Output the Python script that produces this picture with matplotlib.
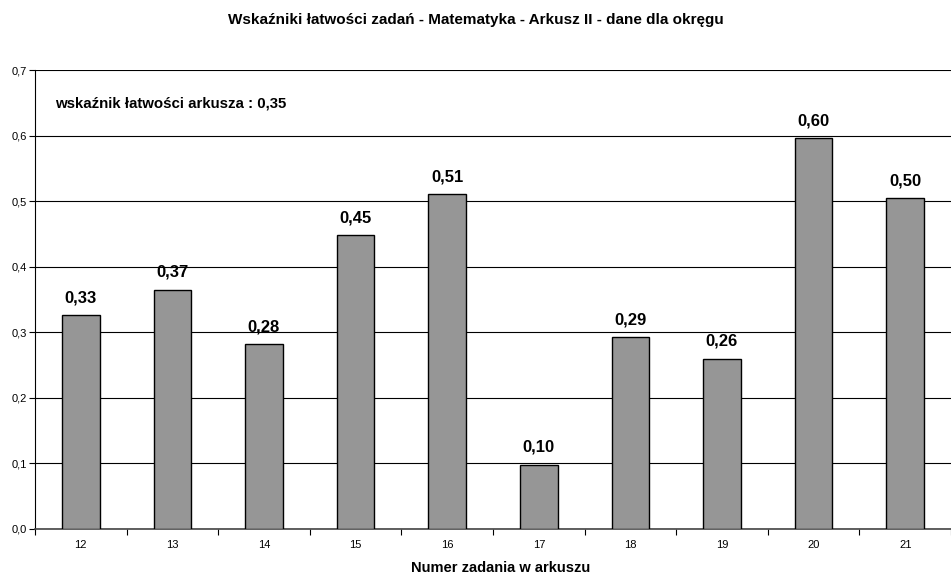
import matplotlib
matplotlib.use("Agg")
import matplotlib.pyplot as plt
import numpy as np

plt.rcParams['font.family'] = ['Liberation Sans', 'DejaVu Sans']

categories = ["12", "13", "14", "15", "16", "17", "18", "19", "20", "21"]
values = [0.326, 0.365, 0.282, 0.448, 0.511, 0.098, 0.293, 0.260, 0.596, 0.505]
labels = ["0,33", "0,37", "0,28", "0,45", "0,51", "0,10", "0,29", "0,26", "0,60", "0,50"]
yticks = [0.0, 0.1, 0.2, 0.3, 0.4, 0.5, 0.6, 0.7]
ytick_labels = ["0,0", "0,1", "0,2", "0,3", "0,4", "0,5", "0,6", "0,7"]

fig = plt.figure(figsize=(9.51, 5.76), dpi=100)
ax = fig.add_axes([35/951, 47/576, 916/951, 459/576])

x = np.arange(len(categories))
ax.bar(x, values, width=0.41, color="#969696", edgecolor="black", linewidth=1.0, zorder=3)
for xi, v, l in zip(x, values, labels):
    ax.annotate(l, (xi, v), xytext=(0, 12.5), textcoords="offset points",
                ha="center", va="center", fontsize=12, fontweight="bold")

ax.set_xlim(-0.5, len(categories) - 0.5)
ax.set_ylim(0, 0.7)
ax.set_yticks(yticks)
ax.set_yticklabels(ytick_labels, fontsize=8)
ax.yaxis.grid(True, color="black", linewidth=0.8, zorder=0)
ax.set_xticks(x)
ax.set_xticklabels(categories, fontsize=8)
ax.tick_params(axis="x", which="major", length=0, pad=8)
ax.set_xticks(np.arange(-0.5, len(categories), 1.0), minor=True)
ax.tick_params(axis="x", which="minor", length=4, width=0.8, direction="out")
ax.tick_params(axis="y", length=4, width=0.8, direction="out", pad=2)

ax.spines["right"].set_visible(False)
ax.spines["top"].set_visible(False)
ax.spines["left"].set_color("black")
ax.spines["bottom"].set_color("#444444")
ax.spines["bottom"].set_linewidth(1.2)

fig.text(55/951, 1 - 103/576, "wskaźnik łatwości arkusza : 0,35",
         fontsize=10.8, fontweight="bold", va="center", ha="left")
fig.text(475.5/951, 1 - 20/576, "Wskaźniki łatwości zadań - Matematyka - Arkusz II - dane dla okręgu",
         ha="center", va="center", fontsize=11, fontweight="bold")
fig.text(501/951, 1 - 568/576, "Numer zadania w arkuszu", ha="center", va="center",
         fontsize=10.5, fontweight="bold")

fig.savefig("out.png", dpi=100)
